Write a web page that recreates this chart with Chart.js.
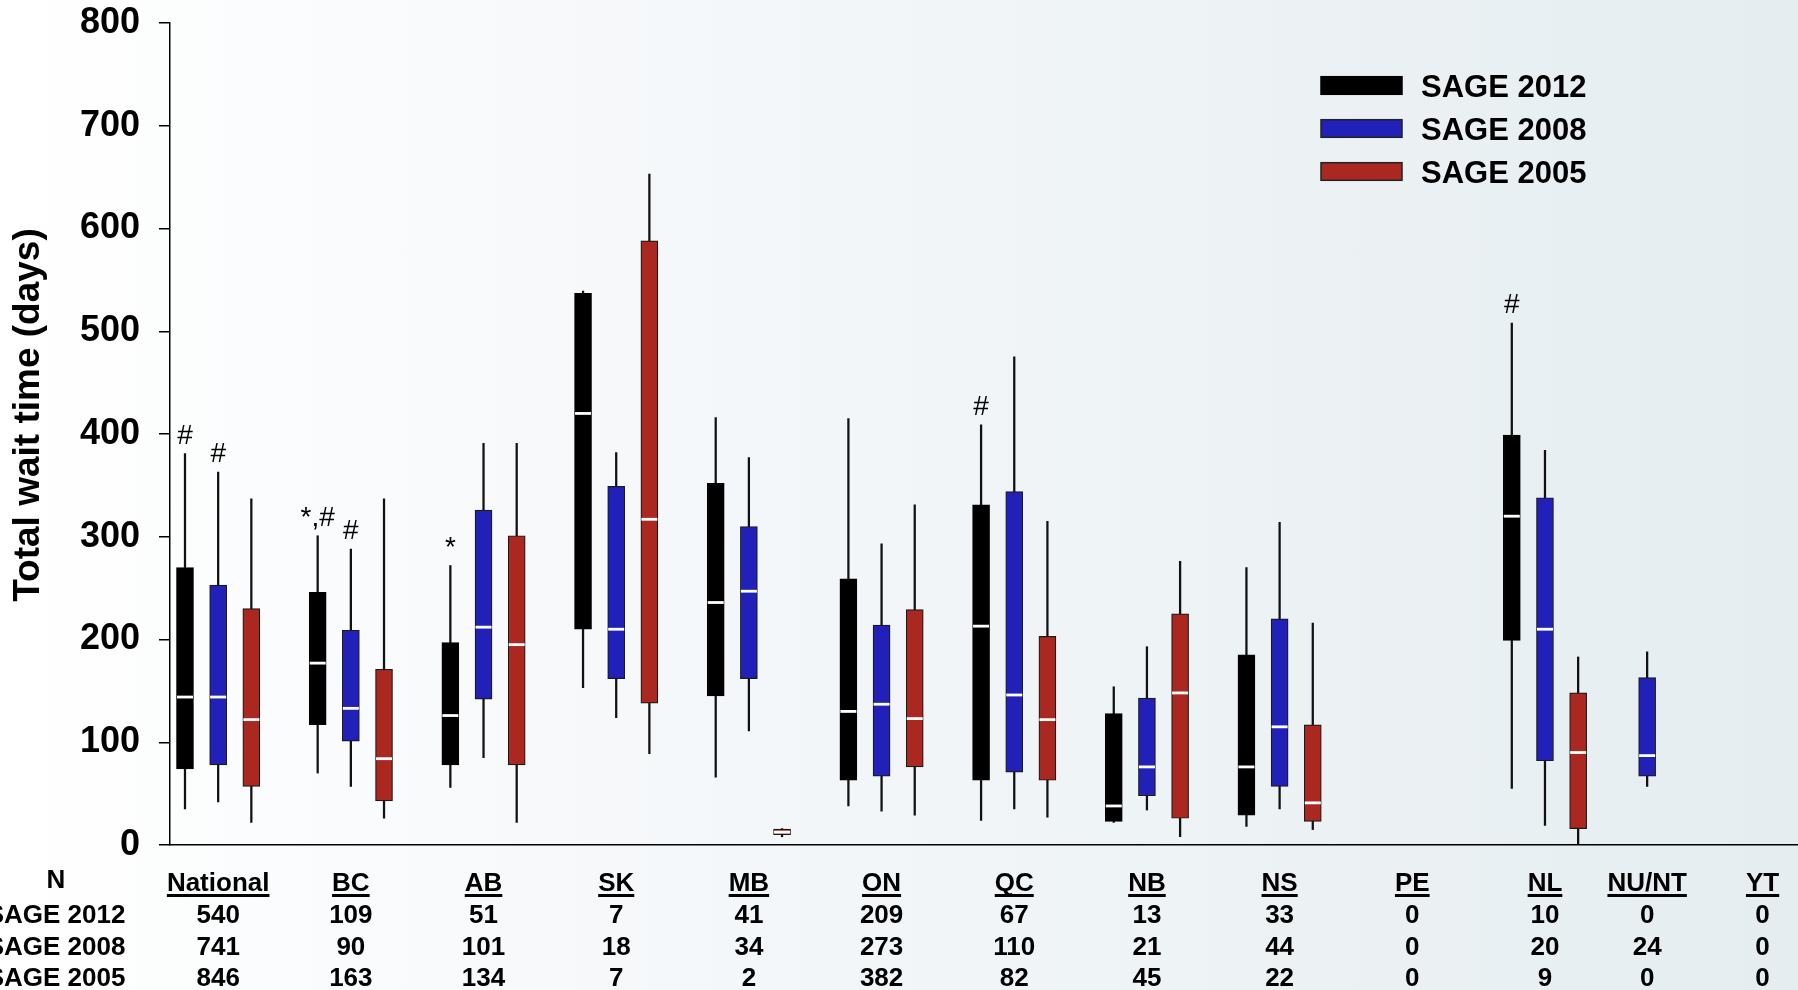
<!DOCTYPE html>
<html>
<head>
<meta charset="utf-8">
<script src="https://cdn.jsdelivr.net/npm/chart.js@4.4.1/dist/chart.umd.min.js"></script>
<style>
  html, body { margin: 0; padding: 0; overflow: hidden; }
  body {
    width: 1798px; height: 990px;
    background: linear-gradient(to right, #ffffff 0%, #f7f9fb 30%, #eef3f5 65%, #e5edf0 100%);
  }
  canvas { display: block; }
</style>
</head>
<body>
<canvas id="chart" width="1798" height="990" style="width:1798px;height:990px"></canvas>
<script>
// Provinces / territories along the x axis
const regions = ['National', 'BC', 'AB', 'SK', 'MB', 'ON', 'QC', 'NB', 'NS', 'PE', 'NL', 'NU/NT', 'YT'];

// Sample sizes per survey
const nSage2012 = [540, 109, 51, 7, 41, 209, 67, 13, 33, 0, 10, 0, 0];
const nSage2008 = [741, 90, 101, 18, 34, 273, 110, 21, 44, 0, 20, 24, 0];
const nSage2005 = [846, 163, 134, 7, 2, 382, 82, 45, 22, 0, 9, 0, 0];

// Total wait time (days): [low whisker, Q1, median, Q3, high whisker]
const sage2012 = [
  [35, 74, 144, 270, 381],
  [70, 117, 177, 246, 301],
  [56, 78, 126, 197, 272],
  [153, 210, 420, 537, 539],
  [66, 145, 236, 352, 416],
  [38, 63, 130, 259, 415],
  [24, 63, 213, 331, 409],
  [22, 23, 38, 128, 154],
  [18, 29, 76, 185, 270],
  null,
  [55, 199, 320, 399, 508],
  null,
  null
];
const sage2008 = [
  [42, 78, 144, 253, 363],
  [57, 101, 133, 209, 288],
  [85, 142, 212, 326, 391],
  [124, 162, 210, 349, 382],
  [111, 162, 247, 310, 377],
  [33, 67, 137, 214, 293],
  [35, 71, 146, 344, 475],
  [34, 48, 76, 143, 193],
  [35, 57, 115, 220, 314],
  null,
  [19, 82, 210, 338, 384],
  [57, 67, 87, 163, 188],
  null
];
const sage2005 = [
  [22, 57, 122, 230, 337],
  [26, 43, 84, 171, 337],
  [22, 78, 195, 301, 391],
  [89, 138, 317, 588, 653],
  [8, 10, 12.5, 15.5, 16],
  [29, 76, 123, 229, 331],
  [27, 63, 122, 203, 315],
  [8, 26, 148, 225, 276],
  [15, 23, 41, 117, 216],
  null,
  [0, 16, 90, 148, 183],
  null,
  null
];

// Significance markers placed above the high whisker
const marks2012 = ['#', '*,#', '*', '', '', '', '#', '', '', '', '#', '', ''];
const marks2008 = ['#', '#', '', '', '', '', '', '', '', '', '', '', ''];
const marks2005 = ['', '', '', '', '', '', '', '', '', '', '', '', ''];

// Layout: where each region sits on the x axis, and the side-by-side offset of each survey
const groupPos = [0, 1, 2, 3, 4, 5, 6, 7, 8, 9, 10, 10.77, 11.64];
const seriesOffset = [-0.25, 0, 0.25];

const FONT = '"Liberation Sans", Arial, Helvetica, sans-serif';

const series = [
  { label: 'SAGE 2012', stats: sage2012, n: nSage2012, marks: marks2012, color: '#000000', edge: '#000000' },
  { label: 'SAGE 2008', stats: sage2008, n: nSage2008, marks: marks2008, color: '#2121b9', edge: '#1a1a1a' },
  { label: 'SAGE 2005', stats: sage2005, n: nSage2005, marks: marks2005, color: '#ab2820', edge: '#1a1a1a' }
];

const datasets = [];
series.forEach((s, si) => {
  const whiskers = [], boxes = [], medians = [];
  s.stats.forEach((st, i) => {
    if (!st) return;
    const x = groupPos[i] + seriesOffset[si];
    whiskers.push({ x, y: [st[0], st[4]] });
    boxes.push({ x, y: [st[1], st[3]] });
    medians.push({ x, y: st[2] });
  });
  datasets.push({
    type: 'bar', label: s.label + ' range', data: whiskers, grouped: false,
    barThickness: 1.6, backgroundColor: '#111111', borderWidth: 0, order: 3
  });
  datasets.push({
    type: 'bar', label: s.label, data: boxes, grouped: false,
    barThickness: 17, backgroundColor: s.color, borderColor: s.edge,
    borderWidth: 1.2, borderSkipped: false, order: 2
  });
  datasets.push({
    type: 'scatter', label: s.label + ' median', data: medians,
    pointStyle: 'line', pointRadius: 8, pointHoverRadius: 8,
    borderColor: '#ffffff', pointBorderColor: '#ffffff', pointBorderWidth: 2.8,
    backgroundColor: '#ffffff', order: 1
  });
});

// Axis title, legend, significance markers and the N table
const overlay = {
  id: 'overlay',
  afterDraw(chart) {
    const ctx = chart.ctx;
    const xs = chart.scales.x, ys = chart.scales.y;
    ctx.save();
    ctx.fillStyle = '#000';

    // y axis title
    ctx.save();
    ctx.translate(29, 415);
    ctx.rotate(-Math.PI / 2);
    ctx.font = 'bold 37px ' + FONT;
    ctx.textAlign = 'center';
    ctx.textBaseline = 'middle';
    ctx.fillText('Total wait time (days)', 0, 0);
    ctx.restore();

    // significance markers
    ctx.font = '28px ' + FONT;
    ctx.textAlign = 'center';
    ctx.textBaseline = 'alphabetic';
    series.forEach((s, si) => {
      s.marks.forEach((m, i) => {
        if (!m || !s.stats[i]) return;
        const x = xs.getPixelForValue(groupPos[i] + seriesOffset[si]);
        const y = ys.getPixelForValue(s.stats[i][4]) - 10;
        ctx.fillText(m, x, y);
      });
    });

    // legend
    const legX = 1321, legW = 81, legH = 17.6, legTop = 85.5, legStep = 43;
    series.forEach((s, si) => {
      const cy = legTop + si * legStep;
      ctx.fillStyle = s.color;
      ctx.fillRect(legX, cy - legH / 2, legW, legH);
      ctx.lineWidth = 1.5;
      ctx.strokeStyle = s.edge === '#000000' ? '#000' : '#222';
      ctx.strokeRect(legX, cy - legH / 2, legW, legH);
      ctx.fillStyle = '#000';
      ctx.font = 'bold 31px ' + FONT;
      ctx.textAlign = 'left';
      ctx.textBaseline = 'alphabetic';
      ctx.fillText(s.label, 1421, cy + 11);
    });

    // region labels (underlined) and sample sizes
    ctx.textAlign = 'center';
    ctx.textBaseline = 'alphabetic';
    ctx.font = 'bold 26px ' + FONT;
    const rowY = [923, 955, 986];
    regions.forEach((r, i) => {
      const x = xs.getPixelForValue(groupPos[i]);
      ctx.fillText(r, x, 891);
      const w = ctx.measureText(r).width;
      ctx.fillRect(x - w / 2, 894, w, 3);
      series.forEach((s, si) => ctx.fillText(String(s.n[i]), x, rowY[si]));
    });
    ctx.fillText('N', 56, 888);
    series.forEach((s, si) => ctx.fillText(s.label, 56, rowY[si]));

    ctx.restore();
  }
};

new Chart(document.getElementById('chart'), {
  type: 'bar',
  data: { datasets },
  options: {
    responsive: false,
    maintainAspectRatio: false,
    devicePixelRatio: 1,
    animation: false,
    events: [],
    layout: { autoPadding: false, padding: { top: 23, left: 0, right: 0, bottom: 0 } },
    plugins: { legend: { display: false }, tooltip: { enabled: false } },
    scales: {
      x: {
        type: 'linear',
        min: -0.363,
        max: 11.907,
        offset: false,
        grid: { display: false, offset: false },
        border: { display: true, color: '#000', width: 1.5 },
        ticks: { display: false },
        afterFit: (scale) => {
          scale.height = 145;
          scale.paddingLeft = 0; scale.paddingRight = 0;
          scale.paddingTop = 0; scale.paddingBottom = 0;
        }
      },
      y: {
        min: 0,
        max: 800,
        grid: { display: true, drawOnChartArea: false, drawTicks: true, tickLength: 11, color: '#000', lineWidth: 1.5 },
        border: { display: true, color: '#000', width: 1.5 },
        ticks: {
          stepSize: 100,
          padding: 19,
          color: '#000',
          font: { family: FONT, size: 36, weight: 'bold' }
        },
        afterFit: (scale) => {
          scale.width = 170;
          scale.paddingLeft = 0; scale.paddingRight = 0;
          scale.paddingTop = 0; scale.paddingBottom = 0;
        }
      }
    }
  },
  plugins: [overlay]
});
</script>
</body>
</html>
